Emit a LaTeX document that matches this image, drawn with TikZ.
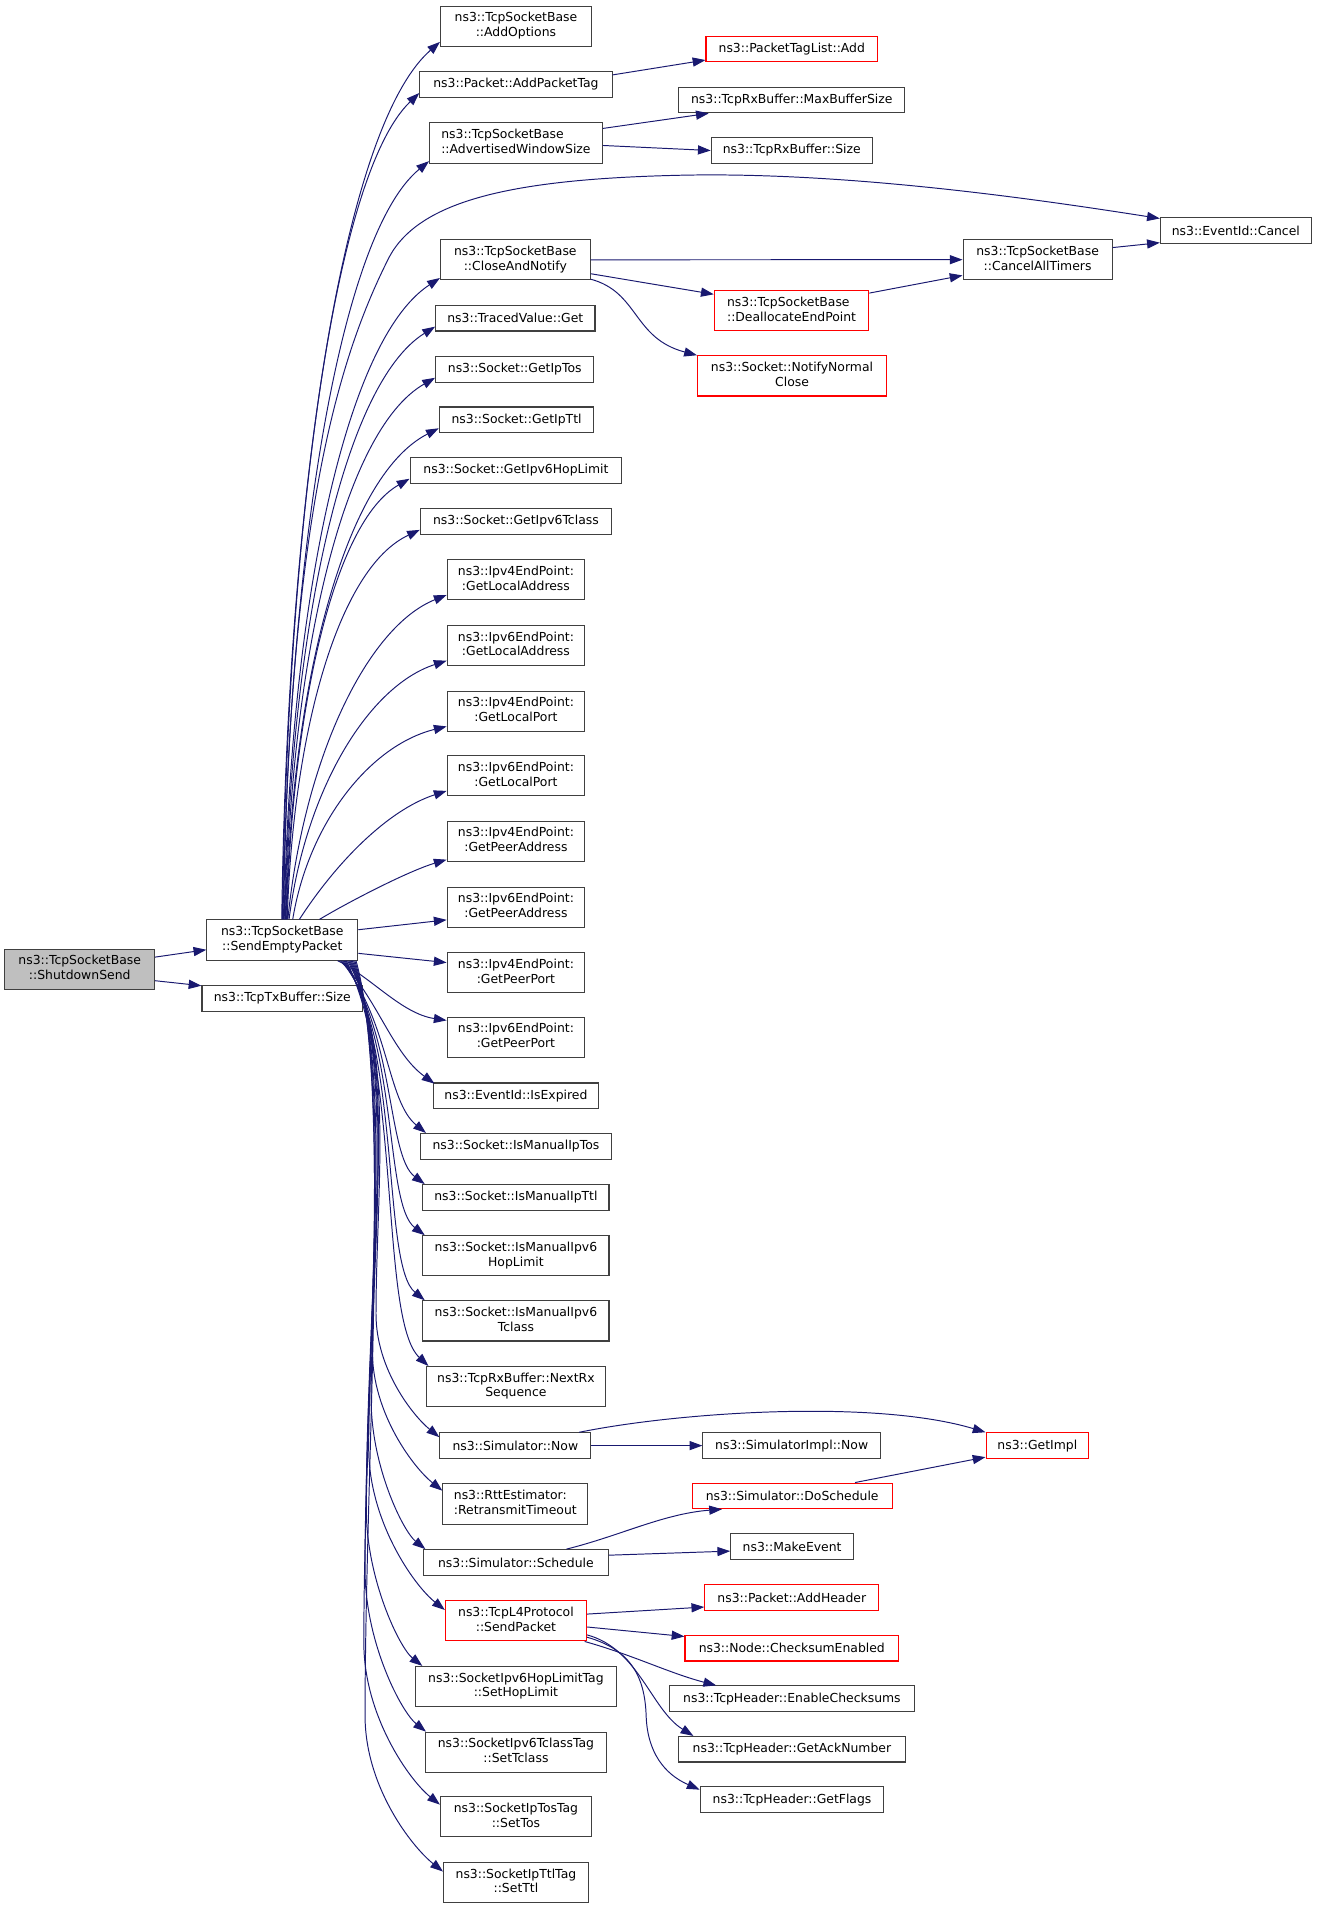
\documentclass[tikz,border=0pt]{standalone}
\usepackage{fontspec}
\setmainfont{DejaVu Sans}
\usetikzlibrary{arrows.meta}
\definecolor{edgeblue}{HTML}{191970}
\definecolor{boxline}{HTML}{404040}
\definecolor{nodegray}{HTML}{BFBFBF}
\definecolor{nodered}{HTML}{FF0000}
\newcommand\twoline[2]{\begin{tabular}{@{}l@{}}#1\\\multicolumn{1}{@{}c@{}}{#2}\end{tabular}}
\begin{document}
\begin{tikzpicture}[x=1pt,y=-1pt,
 box/.style={draw=boxline,line width=0.9pt,fill=white,inner sep=0pt,minimum height=21pt,font=\fontsize{10.2}{12.2}\selectfont},
 tall/.style={minimum height=33pt},
 warn/.style={draw=nodered},
 e/.style={draw=edgeblue,line width=0.8pt,-{Triangle[length=10.5pt,width=7.5pt]}}]
\useasboundingbox[fill=white] (0,0) rectangle (1082.3,1568);

% left
\node[box,tall,minimum width=123pt,fill=nodegray] (sd) at (65.5,796.5) {\twoline{ns3::TcpSocketBase}{::ShutdownSend}};
\node[box,tall,minimum width=124pt] (sep) at (232,772.5) {\twoline{ns3::TcpSocketBase}{::SendEmptyPacket}};
\node[box,minimum width=132pt] (txs) at (232,820.5) {ns3::TcpTxBuffer::Size};

% middle column
\node[box,tall,minimum width=124pt] (ao) at (424,21.5) {\twoline{ns3::TcpSocketBase}{::AddOptions}};
\node[box,minimum width=158pt] (apt) at (424,69.5) {ns3::Packet::AddPacketTag};
\node[box,tall,minimum width=142pt] (aws) at (424,117.5) {\twoline{ns3::TcpSocketBase}{::AdvertisedWindowSize}};
\node[box,tall,minimum width=123pt] (ca) at (423.5,213.5) {\twoline{ns3::TcpSocketBase}{::CloseAndNotify}};
\node[box,minimum width=131pt] (tg) at (423.5,261.5) {ns3::TracedValue::Get};
\node[box,minimum width=130pt] (git) at (423,303.5) {ns3::Socket::GetIpTos};
\node[box,minimum width=127pt] (gitl) at (424.5,345) {ns3::Socket::GetIpTtl};
\node[box,minimum width=174pt] (ghl) at (424,386.5) {ns3::Socket::GetIpv6HopLimit};
\node[box,minimum width=157pt] (gtc) at (424,428.5) {ns3::Socket::GetIpv6Tclass};
\node[box,tall,minimum width=113pt] (la4) at (424,476.5) {\twoline{ns3::Ipv4EndPoint:}{:GetLocalAddress}};
\node[box,tall,minimum width=113pt] (la6) at (424,530.5) {\twoline{ns3::Ipv6EndPoint:}{:GetLocalAddress}};
\node[box,tall,minimum width=113pt] (lp4) at (424,584.5) {\twoline{ns3::Ipv4EndPoint:}{:GetLocalPort}};
\node[box,tall,minimum width=113pt] (lp6) at (424,637.5) {\twoline{ns3::Ipv6EndPoint:}{:GetLocalPort}};
\node[box,tall,minimum width=113pt] (pa4) at (424,691.5) {\twoline{ns3::Ipv4EndPoint:}{:GetPeerAddress}};
\node[box,tall,minimum width=113pt] (pa6) at (424,745.5) {\twoline{ns3::Ipv6EndPoint:}{:GetPeerAddress}};
\node[box,tall,minimum width=113pt] (pp4) at (424,799.5) {\twoline{ns3::Ipv4EndPoint:}{:GetPeerPort}};
\node[box,tall,minimum width=113pt] (pp6) at (424,852.5) {\twoline{ns3::Ipv6EndPoint:}{:GetPeerPort}};
\node[box,minimum width=135pt] (ie) at (424,900.5) {ns3::EventId::IsExpired};
\node[box,minimum width=157pt] (imt) at (424,942) {ns3::Socket::IsManualIpTos};
\node[box,minimum width=153pt] (imttl) at (424,984) {ns3::Socket::IsManualIpTtl};
\node[box,tall,minimum width=153pt] (hop) at (424,1032) {\twoline{ns3::Socket::IsManualIpv6}{HopLimit}};
\node[box,tall,minimum width=153pt] (tcl) at (424,1085.5) {\twoline{ns3::Socket::IsManualIpv6}{Tclass}};
\node[box,tall,minimum width=147pt] (nrx) at (424,1139.5) {\twoline{ns3::TcpRxBuffer::NextRx}{Sequence}};
\node[box,minimum width=124pt] (now) at (423.5,1188) {ns3::Simulator::Now};
\node[box,tall,minimum width=119pt] (rtt) at (423.5,1236) {\twoline{ns3::RttEstimator:}{:RetransmitTimeout}};
\node[box,minimum width=152pt] (sch) at (424,1284) {ns3::Simulator::Schedule};
\node[box,tall,warn,minimum width=116pt] (sp) at (424,1332) {\twoline{ns3::TcpL4Protocol}{::SendPacket}};
\node[box,tall,minimum width=165pt] (shl) at (424,1386) {\twoline{ns3::SocketIpv6HopLimitTag}{::SetHopLimit}};
\node[box,tall,minimum width=149pt] (stc) at (424,1440) {\twoline{ns3::SocketIpv6TclassTag}{::SetTclass}};
\node[box,tall,minimum width=124pt] (stos) at (424,1493) {\twoline{ns3::SocketIpTosTag}{::SetTos}};
\node[box,tall,minimum width=119pt] (sttl) at (424,1547) {\twoline{ns3::SocketIpTtlTag}{::SetTtl}};

% right column
\node[box,warn,minimum width=141pt] (ptla) at (650.7,40.4) {ns3::PacketTagList::Add};
\node[box,minimum width=185.6pt] (mbs) at (650.7,82.2) {ns3::TcpRxBuffer::MaxBufferSize};
\node[box,minimum width=132.4pt] (rxs) at (650.7,123.7) {ns3::TcpRxBuffer::Size};
\node[box,tall,warn,minimum width=127pt] (dealloc) at (650.5,255.3) {\twoline{ns3::TcpSocketBase}{::DeallocateEndPoint}};
\node[box,tall,warn,minimum width=155.4pt] (nnc) at (650.9,308.9) {\twoline{ns3::Socket::NotifyNormal}{Close}};
\node[box,tall,minimum width=122.5pt] (cat) at (852.7,213.4) {\twoline{ns3::TcpSocketBase}{::CancelAllTimers}};
\node[box,minimum width=124pt] (evc) at (1015.6,189.5) {ns3::EventId::Cancel};
\node[box,minimum width=146pt] (sin) at (650.6,1188) {ns3::SimulatorImpl::Now};
\node[box,warn,minimum width=84.3pt] (gi) at (852.5,1188) {ns3::GetImpl};
\node[box,warn,minimum width=164.4pt] (dos) at (651,1229.3) {ns3::Simulator::DoSchedule};
\node[box,minimum width=101pt] (mke) at (651,1271) {ns3::MakeEvent};
\node[box,warn,minimum width=143pt] (ah) at (650.7,1313) {ns3::Packet::AddHeader};
\node[box,warn,minimum width=175.5pt] (ce) at (650.7,1354.5) {ns3::Node::ChecksumEnabled};
\node[box,minimum width=201.6pt] (ec) at (650.8,1396) {ns3::TcpHeader::EnableChecksums};
\node[box,minimum width=186.3pt] (gan) at (650.8,1437.5) {ns3::TcpHeader::GetAckNumber};
\node[box,minimum width=151pt] (gf) at (650.9,1479) {ns3::TcpHeader::GetFlags};

% ShutdownSend
\draw[e] ([yshift=-7pt]sd.north east) -- ([yshift=-8pt]sep.west);
\draw[e] ([yshift=7.5pt]sd.south east) -- ([yshift=-0.5pt]txs.north west);

% upper edges from SendEmptyPacket
\draw[e] ([xshift=62pt]sep.north west) .. controls (236,416.7) and (280,106) .. ([yshift=4pt]ao.south west);
\draw[e] ([xshift=62.5pt]sep.north west) .. controls (236.5,436) and (274,144) .. ([yshift=4pt]apt.south west);
\draw[e] ([xshift=63pt]sep.north west) .. controls (237,463) and (277.4,194.4) .. ([yshift=2pt]aws.south west);
\draw[e] ([xshift=63.5pt]sep.north west) .. controls (237.5,420) and (280,290) .. (320,211) .. controls (345,165) and (420,147) .. (560,144) .. controls (700,141) and (860,165) .. ([yshift=-1pt]evc.north west);
\draw[e] ([xshift=64pt]sep.north west) .. controls (238,508) and (281.4,280.8) .. ([yshift=2pt]ca.south west);
\draw[e] ([xshift=64.5pt]sep.north west) .. controls (238.5,526.6) and (280.2,316.8) .. ([yshift=4pt]tg.south west);
\draw[e] ([xshift=65pt]sep.north west) .. controls (239,546.4) and (280.5,354.6) .. ([yshift=4pt]git.south west);
\draw[e] ([xshift=65.5pt]sep.north west) .. controls (239.5,565.9) and (282,392) .. ([yshift=4pt]gitl.south west);
\draw[e] ([xshift=66pt]sep.north west) .. controls (240,585.4) and (273.4,429.3) .. ([yshift=4pt]ghl.south west);
\draw[e] ([xshift=66.5pt]sep.north west) .. controls (240.5,605) and (277,467) .. ([yshift=4pt]gtc.south west);
\draw[e] ([xshift=67pt]sep.north west) .. controls (250,622) and (302,515) .. ([yshift=4.5pt]la4.south west);
\draw[e] ([xshift=68pt]sep.north west) .. controls (251,649) and (302.7,563.8) .. ([yshift=4.5pt]la6.south west);
\draw[e] ([xshift=71pt]sep.north west) .. controls (253.6,676) and (304.2,612.5) .. ([yshift=4.5pt]lp4.south west);
\draw[e] ([xshift=76.5pt]sep.north west) .. controls (276.8,708) and (319.1,665.5) .. ([yshift=4.5pt]lp6.south west);
\draw[e] ([xshift=93pt]sep.north west) .. controls (285,742) and (335,716) .. ([yshift=2pt]pa4.south west);
\draw[e] ([yshift=-8.5pt]sep.north east) -- ([yshift=6.5pt]pa6.south west);
\draw[e] ([yshift=6pt]sep.south east) -- ([yshift=-8.5pt]pp4.north west);
\draw[e] ([xshift=-17pt]sep.south east) .. controls (305,803) and (330,833) .. ([yshift=-3pt]pp6.north west);

% lower edges from SendEmptyPacket
\draw[e] ([xshift=110pt]sep.south west) .. controls (310,820) and (322,865) .. ([xshift=1pt,yshift=-1pt]ie.north west);
\draw[e] ([xshift=111pt]sep.south west) .. controls (320,840) and (318,905) .. ([xshift=5pt]imt.north west);
\draw[e] ([xshift=112pt]sep.south west) .. controls (325,850) and (318,950) .. ([xshift=2pt]imttl.north west);
\draw[e] ([xshift=113pt]sep.south west) .. controls (328,860) and (316,990) .. ([xshift=2pt]hop.north west);
\draw[e] ([xshift=114pt]sep.south west) .. controls (330,870) and (314,1040) .. ([xshift=2pt]tcl.north west);
\draw[e] ([xshift=115pt]sep.south west) .. controls (330,880) and (312,1085) .. ([xshift=2pt]nrx.north west);
\draw[e] ([xshift=116pt]sep.south west) .. controls (325,860) and (309,980) .. (309,1080) .. controls (309,1125.7) and (340,1164) .. ([yshift=-4pt]now.north west);
\draw[e] ([xshift=117pt]sep.south west) .. controls (326,865) and (306,1000) .. (306,1110) .. controls (306,1162) and (340.2,1206.4) .. ([yshift=-6pt]rtt.north west);
\draw[e] ([xshift=118pt]sep.south west) .. controls (326,870) and (305,1030) .. (305,1150) .. controls (305,1205.6) and (331.5,1258.6) .. ([xshift=2pt]sch.north west);
\draw[e] ([xshift=119pt]sep.south west) .. controls (326,875) and (303,1050) .. (303,1190) .. controls (303,1250) and (340,1302.7) .. ([yshift=-8pt]sp.north west);
\draw[e] ([xshift=120pt]sep.south west) .. controls (325,880) and (301,1080) .. (301,1240) .. controls (301,1298) and (328.4,1354.2) .. ([xshift=6pt]shl.north west);
\draw[e] ([xshift=121pt]sep.south west) .. controls (324,885) and (300,1110) .. (300,1290) .. controls (300,1350) and (329.8,1406.8) .. ([xshift=1pt]stc.north west);
\draw[e] ([xshift=122pt]sep.south west) .. controls (323,890) and (299,1150) .. (299,1350) .. controls (299,1410) and (336.2,1462.7) .. ([yshift=-7pt]stos.north west);
\draw[e] ([xshift=123pt]sep.south west) .. controls (322,895) and (300,1200) .. (300,1410) .. controls (300,1468) and (338,1517.2) .. ([yshift=-8pt]sttl.north west);

% right side edges
\draw[e] ([yshift=-3pt]apt.north east) -- ([yshift=2pt]ptla.south west);
\draw[e] ([yshift=-5pt]aws.north east) -- ([xshift=25pt]mbs.south west);
\draw[e] ([yshift=-19pt]aws.north east) -- (rxs.west);
\draw[e] (ca.east) -- (cat.west);
\draw[e] ([yshift=5.5pt]ca.south east) -- ([yshift=-3.5pt]dealloc.north west);
\draw[e] ([yshift=1pt]ca.south east) .. controls (525,240) and (520,278) .. (nnc.north west);
\draw[e] ([yshift=-2.5pt]dealloc.north east) -- ([yshift=4pt]cat.south west);
\draw[e] ([yshift=-7pt]cat.north east) -- ([yshift=1pt]evc.south west);

\draw[e] (now.east) -- (sin.west);
\draw[e] ([xshift=-10pt]now.north east) .. controls (560,1160) and (720,1150) .. (gi.north west);
\draw[e] ([xshift=-31pt]dos.north east) -- ([yshift=1.5pt]gi.south west);
\draw[e] ([xshift=118pt]sch.north west) .. controls (510,1262) and (545,1244) .. ([xshift=25pt]dos.south west);
\draw[e] ([yshift=-5pt]sch.north east) -- ([yshift=-3.7pt]mke.west);
\draw[e] ([yshift=-11.4pt]sp.north east) -- ([yshift=3.3pt]ah.south west);
\draw[e] ([yshift=-22pt]sp.north east) -- ([yshift=-1.3pt]ce.north west);
\draw[e] ([xshift=-2pt]sp.south east) .. controls (520,1360) and (550,1375) .. ([xshift=39pt]ec.north west);
\draw[e] ([yshift=5.4pt]sp.south east) .. controls (525,1355) and (535,1405) .. ([xshift=12.6pt]gan.north west);
\draw[e] ([yshift=3.5pt]sp.south east) .. controls (520,1356) and (530,1380) .. (531,1410) .. controls (532,1440) and (546,1458) .. ([yshift=-2.7pt]gf.north west);
\end{tikzpicture}
\end{document}
